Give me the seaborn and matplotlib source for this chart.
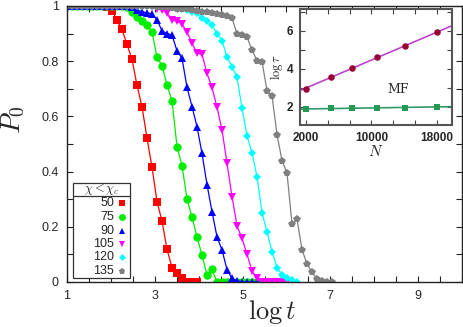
import numpy as np
import pandas as pd
import seaborn as sns
import matplotlib
matplotlib.use("Agg")
from matplotlib import pyplot as plt
from matplotlib.patches import Rectangle
from matplotlib.ticker import MultipleLocator, FixedLocator, FuncFormatter

# Data
logt = [1.000, 1.114, 1.228, 1.342, 1.456, 1.570, 1.684, 1.798, 1.912, 2.025,
        2.139, 2.253, 2.367, 2.481, 2.595, 2.709, 2.823, 2.937, 3.051, 3.165,
        3.279, 3.393, 3.507, 3.621, 3.735, 3.849, 3.962, 4.076, 4.190, 4.304,
        4.418, 4.532, 4.646, 4.760, 4.874, 4.988, 5.102, 5.216, 5.330, 5.444,
        5.558, 5.672, 5.786, 5.899, 6.013, 6.127, 6.241, 6.355, 6.469, 6.583,
        6.697, 6.811, 6.925, 7.039]

chi_labels = ["50", "75", "90", "105", "120", "135"]

p0_50 = [1, 1, 1, 1, 1, 1, 1, 1, 0.995, 0.983, 0.949, 0.916, 0.861, 0.807,
         0.713, 0.635, 0.521, 0.416, 0.291, 0.221, 0.118, 0.052, 0.032, 0.013,
         0, 0, 0]
p0_75 = [1, 1, 1, 1, 1, 1, 1, 1, 1, 1, 1, 1, 0.995, 0.977, 0.961, 0.947, 0.93,
         0.906, 0.814, 0.784, 0.714, 0.657, 0.49, 0.421, 0.30, 0.235, 0.163,
         0.098, 0.025, 0.046, 0, 0, 0, 0, 0, 0, 0, 0, 0]
p0_90 = [1, 1, 1, 1, 1, 1, 1, 1, 1, 1, 1, 1, 1, 0.995, 0.985, 0.98, 0.975,
         0.972, 0.95, 0.91, 0.90, 0.895, 0.837, 0.81, 0.705, 0.635, 0.563,
         0.466, 0.353, 0.255, 0.163, 0.116, 0.045, 0.013, 0.005, 0, 0, 0, 0]
p0_105 = [1, 1, 1, 1, 1, 1, 1, 1, 1, 1, 1, 1, 1, 1, 1, 1, 1, 0.995, 0.99,
          0.985, 0.975, 0.95, 0.945, 0.935, 0.905, 0.865, 0.83, 0.825, 0.756,
          0.705, 0.633, 0.551, 0.43, 0.309, 0.203, 0.158, 0.1, 0.04, 0.013,
          0, 0, 0, 0, 0, 0]
p0_120 = [1, 1, 1, 1, 1, 1, 1, 1, 1, 1, 1, 1, 1, 1, 1, 1, 1, 1, 1, 1, 1, 1,
          0.995, 0.99, 0.985, 0.98, 0.975, 0.955, 0.945, 0.93, 0.9, 0.874,
          0.816, 0.78, 0.742, 0.629, 0.529, 0.468, 0.381, 0.25, 0.182, 0.11,
          0.052, 0.025, 0.013, 0.006, 0]
p0_135 = [1, 1, 1, 1, 1, 1, 1, 1, 1, 1, 1, 1, 1, 1, 1, 1, 1, 1, 0.998, 0.997,
          0.995, 0.993, 0.99, 0.99, 0.988, 0.985, 0.983, 0.98, 0.978, 0.975,
          0.972, 0.968, 0.962, 0.955, 0.9, 0.895, 0.887, 0.84, 0.802, 0.798,
          0.693, 0.674, 0.533, 0.44, 0.395, 0.21, 0.228, 0.117, 0.065, 0.035,
          0.011, 0.004, 0, 0]

# inset
n_sizes = [2000, 5000, 7600, 10700, 14100, 18000]
log_tau = [2.92, 3.58, 4.05, 4.60, 5.19, 5.91]
log_tau_mf = [1.86, 1.91, 1.94, 1.96, 1.96, 1.98]

series = [p0_50, p0_75, p0_90, p0_105, p0_120, p0_135]
colors = ["#ff0000", "#00ee00", "#0000ff", "#ff00ff", "#00ffff", "#808080"]
markers = ["s", "o", "^", "v", "D", "p"]
msizes = [5.5, 6, 5.5, 5.5, 4.5, 6]

rows = []
for lab, ys in zip(chi_labels, series):
    for x, y in zip(logt, ys):
        rows.append((lab, x, y))
df = pd.DataFrame(rows, columns=["chi", "logt", "P0"])

sns.set_style("ticks")
plt.rcParams["font.family"] = ["Liberation Sans", "DejaVu Sans"]
plt.rcParams["mathtext.fontset"] = "cm"

fig = plt.figure(figsize=(4.63, 3.27), dpi=100)
ax = fig.add_axes([67 / 463, 1 - 282 / 327, 395 / 463, 276 / 327])

for lab, col, mk, ms in zip(chi_labels, colors, markers, msizes):
    sns.lineplot(
        data=df[df["chi"] == lab], x="logt", y="P0", color=col, marker=mk,
        markersize=ms, markeredgewidth=0, linewidth=0.9, ax=ax, sort=False,
        errorbar=None, legend=False,
    )

ax.set_xlim(1, 10)
ax.set_ylim(0, 1)
ax.xaxis.set_major_locator(FixedLocator([1, 3, 5, 7, 9]))
ax.xaxis.set_minor_locator(MultipleLocator(0.5))
ax.yaxis.set_major_locator(MultipleLocator(0.2))
ax.yaxis.set_minor_locator(MultipleLocator(0.1))
ax.yaxis.set_major_formatter(FuncFormatter(lambda v, p: f"{v:g}"))
ax.tick_params(which="both", direction="in", top=True, right=True,
               length=4, width=0.8, labelsize=9, color="#222222", pad=6)
for s in ax.spines.values():
    s.set_color("#222222")
    s.set_linewidth(1)
ax.set_xlabel("$\\log t$", fontsize=19)
ax.set_ylabel("$P_0$", fontsize=20)
ax.xaxis.set_label_coords(0.52, -0.11)
ax.xaxis.label.set_va("center")
ax.yaxis.set_label_coords(-0.135, 0.587)
ax.yaxis.label.set_va("center")

# legend drawn by hand
lx0, lx1, ly0, ly1 = 0.015, 0.16, 0.0145, 0.359
ax.add_patch(Rectangle((lx0, ly0), lx1 - lx0, ly1 - ly0, transform=ax.transAxes,
                       facecolor="white", edgecolor="#333333", lw=0.9, zorder=5))
ax.plot([lx0, lx1], [0.312, 0.312], color="#333333", lw=0.9,
        transform=ax.transAxes, zorder=6, clip_on=False)
ax.text((lx0 + lx1) / 2, 0.336, "$\\chi < \\chi_c$", fontsize=9,
        ha="center", va="center", transform=ax.transAxes, zorder=6)
entry_y = [0.287, 0.236, 0.186, 0.138, 0.09, 0.041]
for lab, col, mk, ms, yy in zip(chi_labels, colors, markers, msizes, entry_y):
    ax.text(0.119, yy, lab, fontsize=9, ha="right", va="center",
            transform=ax.transAxes, zorder=6)
    ax.plot([0.14], [yy], marker=mk, color=col, markersize=ms - 1,
            markeredgewidth=0, transform=ax.transAxes, zorder=6, clip_on=False)

# inset
ins = fig.add_axes([300 / 463, 1 - 125 / 327, 152 / 463, 116 / 327])
ins.set_xlim(1270, 19830)
ins.set_ylim(1.04, 7.14)
nx = np.array(ins.get_xlim())
fit = np.polyfit(n_sizes, log_tau, 1)
fit_mf = np.polyfit(n_sizes, log_tau_mf, 1)
ins.plot(nx, np.polyval(fit, nx), color="#bb44cc", lw=1.2)
ins.plot(nx, np.polyval(fit_mf, nx), color="#339966", lw=1.2)
sns.scatterplot(x=n_sizes, y=log_tau, color="#990033", marker="o", s=22,
                linewidth=0, ax=ins, zorder=3)
sns.scatterplot(x=n_sizes, y=log_tau_mf, color="#229955", marker="s", s=18,
                linewidth=0, ax=ins, zorder=3)
ins.text(13270, 2.92, "MF", fontsize=9, family="DejaVu Serif",
         ha="center", va="center")
ins.xaxis.set_major_locator(FixedLocator([2000, 10000, 18000]))
ins.xaxis.set_minor_locator(FixedLocator([4667, 7333, 12667, 15333]))
ins.yaxis.set_major_locator(FixedLocator([2, 4, 6]))
ins.yaxis.set_minor_locator(FixedLocator([3, 5, 7]))
ins.tick_params(which="both", direction="in", top=True, right=True,
                length=3.5, width=0.8, labelsize=8.5, color="#444444", pad=5)
for t in ins.get_xticklabels() + ins.get_yticklabels():
    t.set_fontweight("bold")
for s in ins.spines.values():
    s.set_color("#555555")
    s.set_linewidth(1.5)
ins.set_xlabel("$N$", fontsize=11, labelpad=0)
ins.set_ylabel("$\\log\\tau$", fontsize=9, labelpad=1)

fig.savefig("out.png", dpi=100)
